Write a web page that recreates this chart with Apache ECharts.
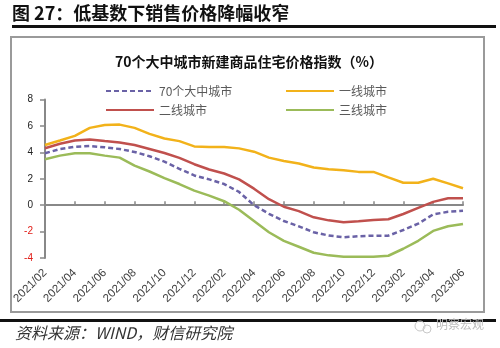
<!DOCTYPE html>
<html><head><meta charset="utf-8">
<script src="https://cdn.jsdelivr.net/npm/echarts@6/dist/echarts.min.js"></script>
<style>html,body{margin:0;padding:0;background:#fff}#c{width:500px;height:348px}</style>
</head><body><div id="c"></div>
<script>
const categories = ['2021/02','2021/03','2021/04','2021/05','2021/06','2021/07','2021/08','2021/09','2021/10','2021/11','2021/12',
 '2022/01','2022/02','2022/03','2022/04','2022/05','2022/06','2022/07','2022/08','2022/09','2022/10','2022/11','2022/12',
 '2023/01','2023/02','2023/03','2023/04','2023/05','2023/06'];
const city70 = [3.93,4.25,4.42,4.48,4.38,4.25,4.03,3.7,3.3,2.75,2.25,1.95,1.6,1.0,0.0,-0.65,-1.2,-1.6,-2.05,-2.3,-2.43,-2.35,-2.31,-2.31,-1.88,-1.4,-0.7,-0.5,-0.42];
const tier1 = [4.56,4.9,5.25,5.85,6.07,6.1,5.85,5.4,5.05,4.85,4.45,4.4,4.4,4.3,4.05,3.6,3.35,3.15,2.85,2.72,2.65,2.52,2.52,2.1,1.7,1.7,2.0,1.65,1.28];
const tier2 = [4.31,4.65,4.89,4.98,4.85,4.75,4.55,4.25,3.95,3.58,3.1,2.7,2.4,1.95,1.25,0.45,-0.12,-0.45,-0.92,-1.15,-1.3,-1.22,-1.12,-1.07,-0.67,-0.2,0.25,0.52,0.52];
const tier3 = [3.48,3.75,3.93,3.93,3.75,3.6,3.0,2.55,2.05,1.6,1.1,0.72,0.3,-0.35,-1.2,-2.05,-2.7,-3.15,-3.6,-3.8,-3.9,-3.9,-3.9,-3.83,-3.3,-2.7,-1.95,-1.6,-1.42];
const seriesNames = ['70个大中城市','一线城市','二线城市','三线城市'];
const yTicks = {min:-4, max:8, interval:2};

const chart = echarts.init(document.getElementById('c'), null, {renderer:'canvas'});
const cjk = '"Noto Sans CJK SC", "Noto Sans", sans-serif';
const colors = ['#6A62A6','#F2B21A','#C0504D','#9BBB59'];
const mkSeries = (name, data, color, dashed) => ({
  name, type:'line', data, symbol:'none', showSymbol:false, smooth:false,
  xAxisIndex:0, yAxisIndex:0,
  lineStyle:{color, width:2.5, type: dashed ? [5,3] : 'solid'},
  itemStyle:{color}
});
const legendAt = (name, left, top) => ({
  data:[name], left, top, itemWidth:48, itemHeight:14, itemGap:6,
  itemStyle:{opacity:0},
  textStyle:{fontFamily:cjk, fontSize:12, color:'#595959'}
});
chart.setOption({
  animation:false,
  backgroundColor:'#fff',
  title:{text:'70个大中城市新建商品住宅价格指数（%）', left:244, top:50, textAlign:'center',
    textStyle:{fontFamily:cjk, fontSize:14, fontWeight:'bold', color:'#111'}},
  legend:[legendAt(seriesNames[0],100,80), legendAt(seriesNames[1],280,80),
          legendAt(seriesNames[2],100,99), legendAt(seriesNames[3],280,99)],
  grid:{left:45, right:37, top:99.5, bottom:90, containLabel:false},
  xAxis:[{
    type:'category', data:categories, boundaryGap:false, position:'bottom',
    axisLine:{show:false, onZero:false}, axisTick:{show:false},
    axisLabel:{interval:1, rotate:45, margin:13, fontFamily:'"Liberation Sans", Arial, sans-serif', fontSize:11.5, color:'#404040'}
  },{
    type:'category', data:categories, boundaryGap:false, position:'top',
    axisLine:{show:true, onZero:true, lineStyle:{color:'#888', width:2}},
    axisTick:{show:true, inside:false, interval:1, length:4, lineStyle:{color:'#888', width:1.5}},
    axisLabel:{show:false}
  }],
  yAxis:{
    type:'value', min:yTicks.min, max:yTicks.max, interval:yTicks.interval,
    axisLine:{show:true, lineStyle:{color:'#888', width:2}},
    axisTick:{show:true, length:5, lineStyle:{color:'#888', width:1.5}},
    splitLine:{show:false},
    axisLabel:{margin:12, fontFamily:'"Liberation Sans", Arial, sans-serif', fontSize:10,
      color:(v)=> (Number(v) < 0 ? '#E0201A' : '#222')}
  },
  series:[mkSeries(seriesNames[0], city70, colors[0], true),
          mkSeries(seriesNames[1], tier1, colors[1], false),
          mkSeries(seriesNames[2], tier2, colors[2], false),
          mkSeries(seriesNames[3], tier3, colors[3], false)],
  graphic:[
    {type:'text', left:12, top:4, style:{text:'图 27：低基数下销售价格降幅收窄', font:'bold 18px "Noto Sans CJK SC", sans-serif', fill:'#111'}},
    {type:'rect', shape:{x:12, y:25, width:484, height:3}, style:{fill:'#111'}},
    {type:'rect', shape:{x:11, y:37, width:473, height:275}, style:{fill:'none', stroke:'#9a9a9a', lineWidth:2}},
    {type:'rect', shape:{x:0, y:319, width:496, height:3}, style:{fill:'#111'}},
    {type:'text', left:15, top:325, style:{text:'资料来源：WIND，财信研究院', font:'italic 16px "Noto Sans CJK SC", serif', fill:'#333'}},
    {type:'circle', shape:{cx:420, cy:326, r:5}, style:{fill:'none', stroke:'#c8c8c8', lineWidth:1}},
    {type:'circle', shape:{cx:427, cy:329, r:4}, style:{fill:'none', stroke:'#c8c8c8', lineWidth:1}},
    {type:'text', left:436, top:318, style:{text:'明察宏观', font:'12px "Noto Sans CJK SC", sans-serif', fill:'#bdbdbd'}}
  ]
});
</script></body></html>
